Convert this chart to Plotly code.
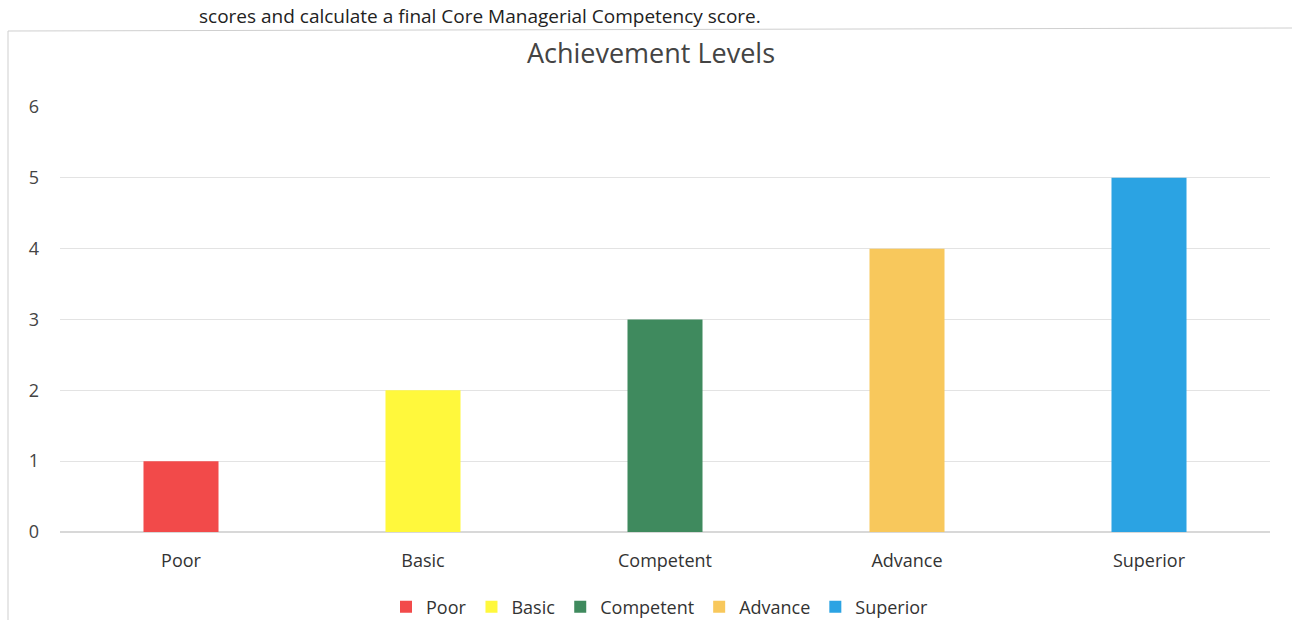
import plotly.graph_objects as go

categories = ["Poor", "Basic", "Competent", "Advance", "Superior"]
values = [1, 2, 3, 4, 5]
colors = ["#F24A4A", "#FFF83C", "#3F8A5E", "#F8C85C", "#2BA3E3"]
y_ticks = [0, 1, 2, 3, 4, 5, 6]

fig = go.Figure()
for cat, val, col in zip(categories, values, colors):
    fig.add_trace(go.Bar(
        x=[cat], y=[val], name=cat, marker=dict(color=col, line=dict(width=0)),
        width=0.31,
    ))

W, H = 1296, 620
ml, mr, mt, mb = 60, 26, 107, 88
pw, ph = W - ml - mr, H - mt - mb

def px_x(p):
    return (p - ml) / pw

def px_y(p):
    return (H - mb - p) / ph

fig.update_layout(
    width=W, height=H,
    margin=dict(l=ml, r=mr, t=mt, b=mb, autoexpand=False),
    paper_bgcolor="white", plot_bgcolor="white",
    barmode="overlay",
    font=dict(family="Open Sans, Liberation Sans, sans-serif", color="#444444", size=18),
    title=dict(text="Achievement Levels", xref="paper", x=px_x(651), xanchor="center",
               yref="container", y=1 - 54 / H, yanchor="middle",
               font=dict(size=27, color="#444444")),
    xaxis=dict(showgrid=False, showline=False, ticks="", ticklabelstandoff=16,
               tickfont=dict(size=18, color="#333333"), automargin=False),
    yaxis=dict(range=[0, 6], tickvals=y_ticks, showgrid=True, gridcolor="#E3E3E3", gridwidth=1,
               zeroline=True, zerolinecolor="#D8D8D8", showline=False, ticks="",
               ticklabelstandoff=20, tickfont=dict(size=18, color="#444444"), automargin=False),
    legend=dict(orientation="h", x=px_x(660), xanchor="center",
                yref="container", y=1 - 607 / H, yanchor="middle",
                font=dict(size=18, color="#333333"), itemwidth=30, traceorder="normal"),
    showlegend=True,
)

fig.add_annotation(
    text="scores and calculate a final Core Managerial Competency score.",
    xref="paper", yref="paper", x=px_x(197), y=px_y(16), xanchor="left", yanchor="middle",
    showarrow=False, font=dict(size=19, color="#222222"),
)
fig.add_shape(type="line", xref="paper", yref="paper",
              x0=px_x(8), x1=px_x(1292), y0=px_y(31), y1=px_y(28),
              line=dict(color="#CFCFCF", width=1))
fig.add_shape(type="line", xref="paper", yref="paper",
              x0=px_x(8), x1=px_x(8), y0=px_y(31), y1=px_y(620),
              line=dict(color="#CFCFCF", width=1))

fig.write_html("out.html")
